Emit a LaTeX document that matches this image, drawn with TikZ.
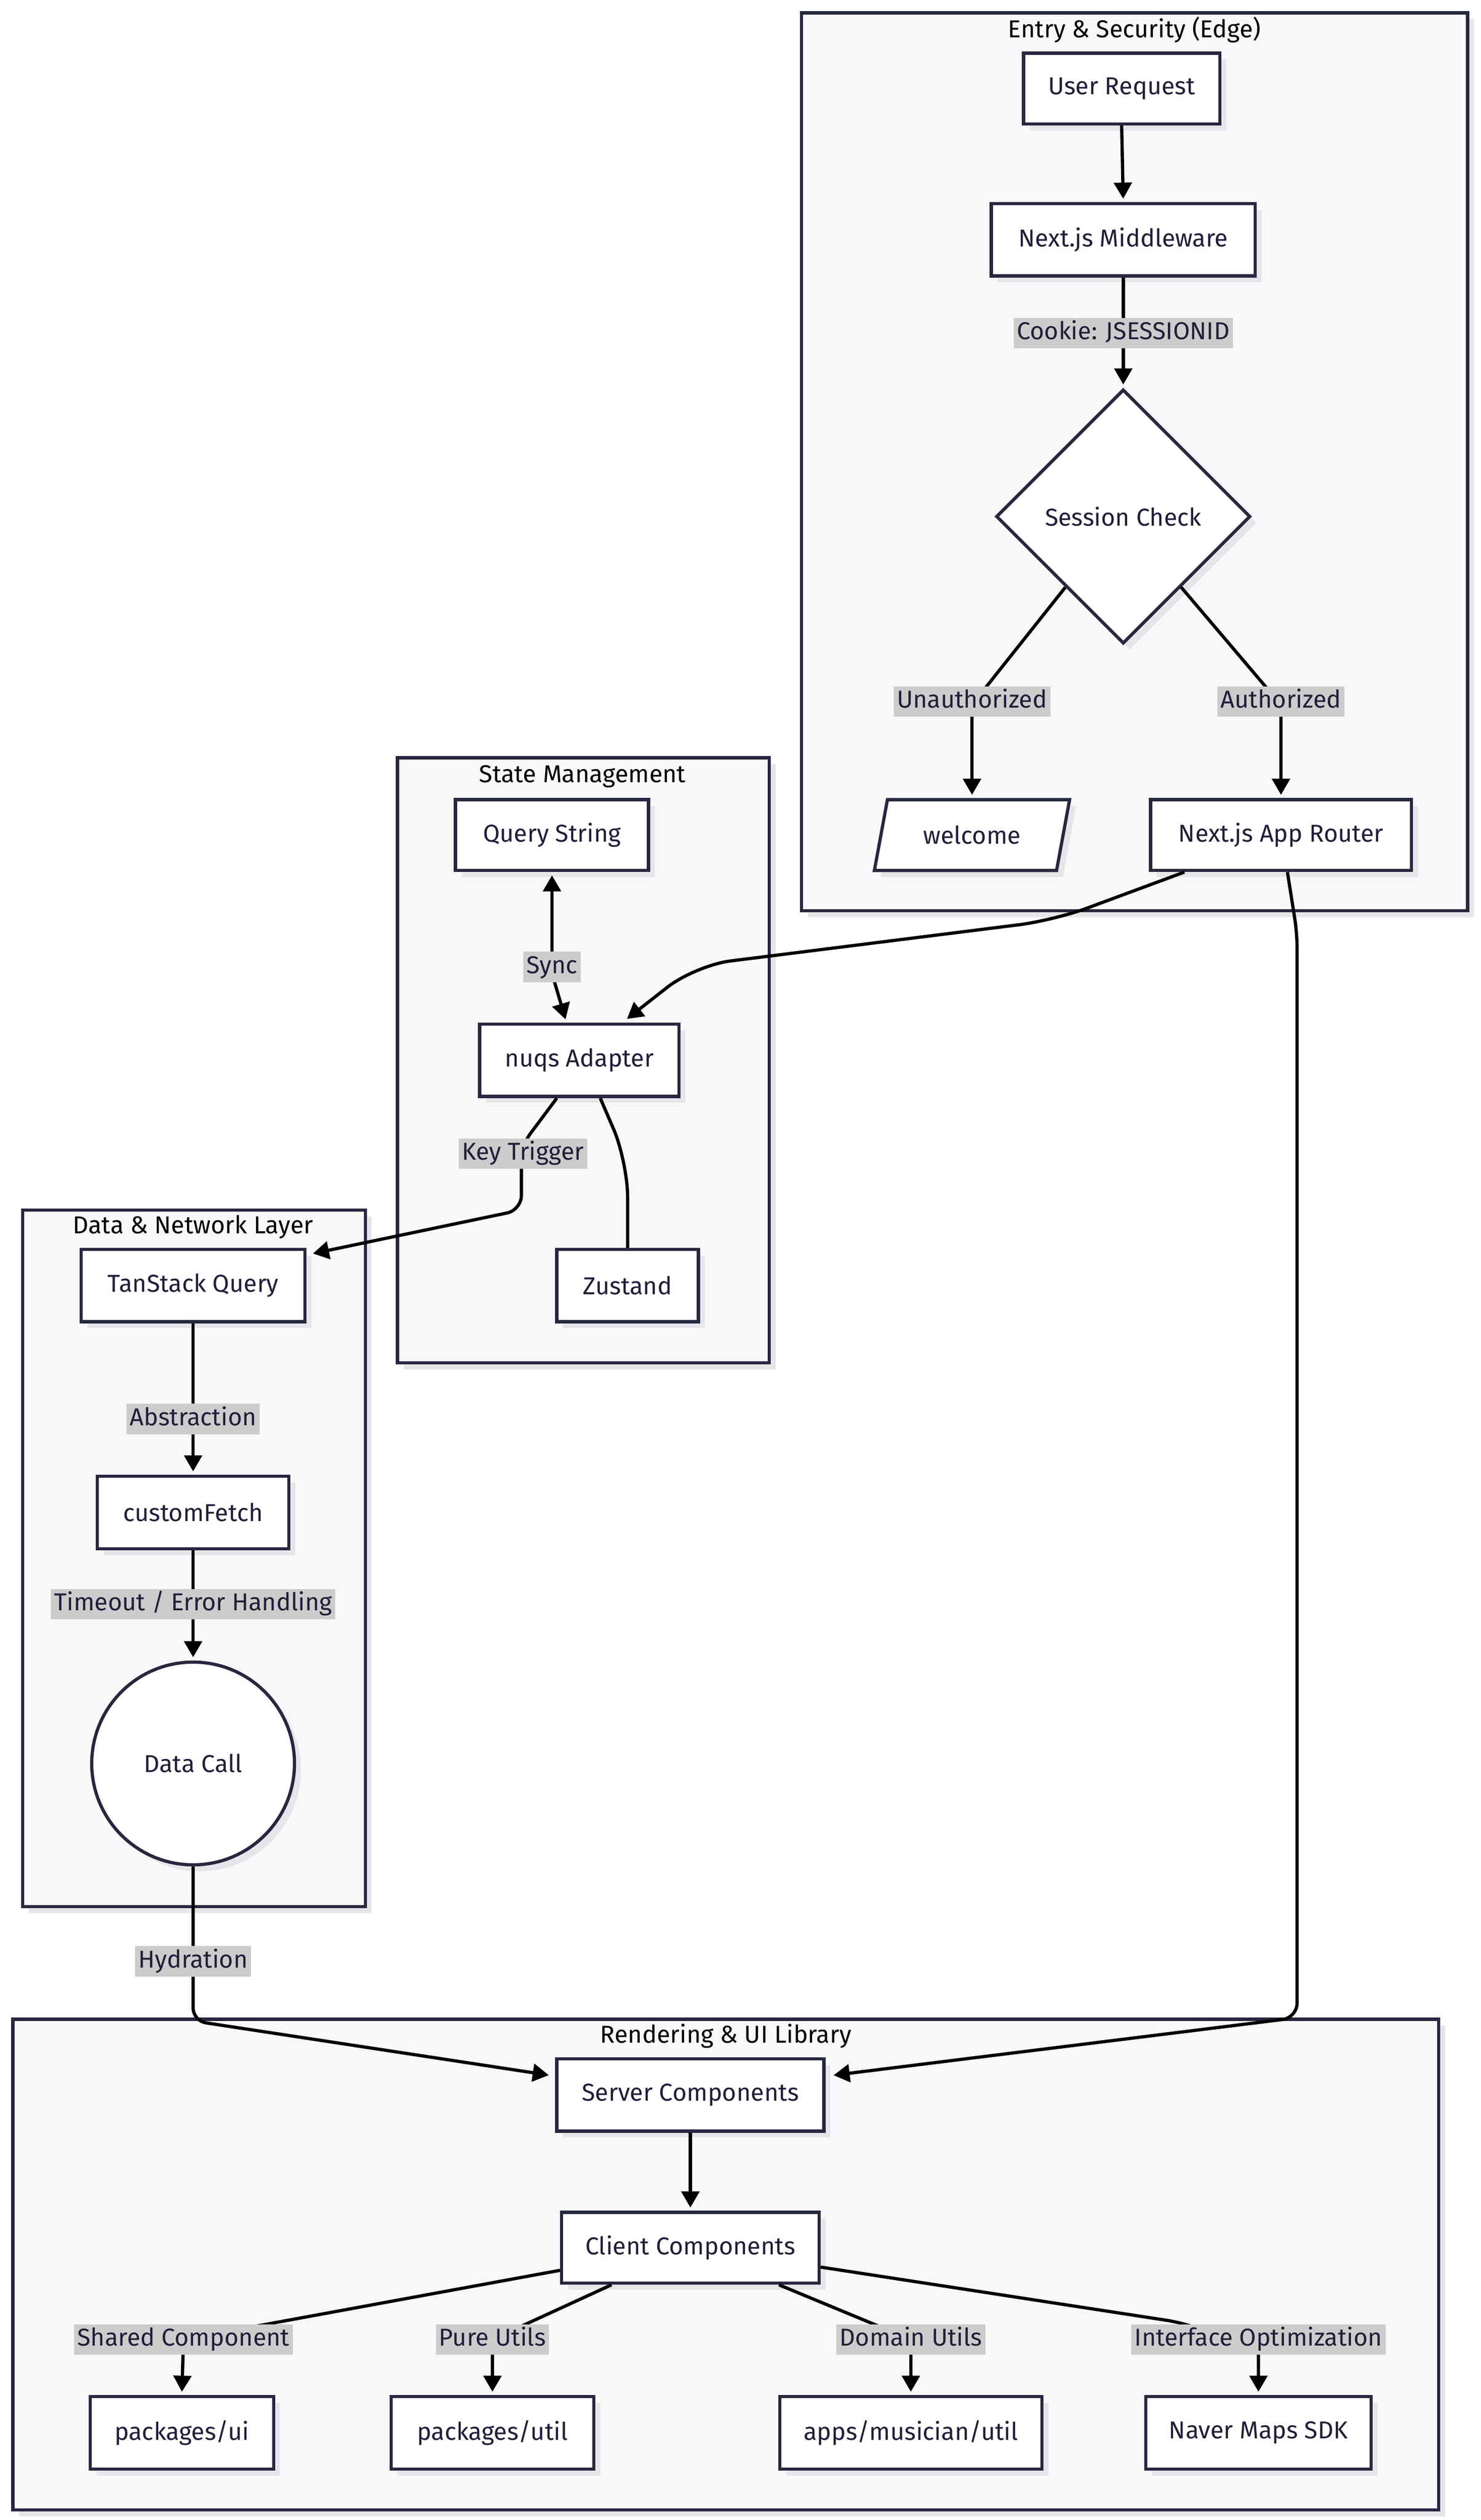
\documentclass[tikz,border=0pt]{standalone}
\usepackage{fontspec}
\setmainfont{Fira Sans}
\usetikzlibrary{arrows.meta,shapes.geometric,shadows,calc}
\definecolor{stk}{HTML}{27273F}
\definecolor{txt}{HTML}{1F1F3A}
\definecolor{clfill}{HTML}{F8F8FA}
\definecolor{shd}{HTML}{E6E6EA}
\definecolor{lbl}{HTML}{CCCCCC}
\begin{document}
\begin{tikzpicture}[x=1pt,y=-1pt,
  font=\fontsize{15.2}{17}\selectfont,
  shd/.style={drop shadow={shadow xshift=4pt, shadow yshift=-4pt, fill=shd, opacity=1}},
  box/.style={draw=stk, line width=2pt, fill=white, text=txt, inner sep=0pt, shd},
  cluster/.style={draw=stk, line width=2pt, fill=clfill, shd},
  ctitle/.style={text=black, inner sep=0pt},
  edge/.style={draw=black, line width=2pt, -{Triangle[length=10pt,width=11pt]}, shorten >=2pt},
  plain/.style={draw=black, line width=2pt},
  lab/.style={fill=lbl, text=txt, inner sep=2pt, text height=11.5pt, text depth=3.5pt}
]
\useasboundingbox (0,0) rectangle (920,1566.2);
\fill[white] (0,0) rectangle (920,1566.2);

% clusters
\path[cluster] (498,8) rectangle (912,566);
\node[ctitle] (t1) at (705,18.5) {Entry \& Security (Edge)};
\path[cluster] (247,471) rectangle (478,847);
\node[ctitle] (t2) at (362,482.5) {State Management};
\path[cluster] (14,752) rectangle (227,1185);
\node[ctitle] (t3) at (120,762.5) {Data \& Network Layer};
\path[cluster] (8,1255) rectangle (894,1560);
\node[ctitle] (t4) at (451,1265.5) {Rendering \& UI Library};

% nodes
\node[box, minimum width=122pt, minimum height=44pt] (ur) at (697,55) {User Request};
\node[box, minimum width=164pt, minimum height=45pt] (mw) at (698,149) {Next.js Middleware};
\node[box, diamond, minimum width=158pt, minimum height=158pt] (sc) at (698,321) {Session Check};
\node[box, trapezium, trapezium left angle=68, trapezium right angle=112, trapezium stretches=true, minimum width=122pt, minimum height=44pt] (wel) at (604,519) {welcome};
\node[box, minimum width=162pt, minimum height=44pt] (ar) at (796,519) {Next.js App Router};

\node[box, minimum width=120pt, minimum height=44pt] (qs) at (343,519) {Query String};
\node[box, minimum width=124pt, minimum height=45pt] (nq) at (360,659) {nuqs Adapter};
\node[box, minimum width=88pt, minimum height=45pt] (zu) at (390,799) {Zustand};

\node[box, minimum width=139pt, minimum height=45pt] (tq) at (120,799) {TanStack Query};
\node[box, minimum width=119pt, minimum height=45pt] (cf) at (120,940) {customFetch};
\node[box, circle, minimum size=126pt] (dc) at (120,1096) {Data Call};

\node[box, minimum width=166pt, minimum height=45pt] (sv) at (429,1302) {Server Components};
\node[box, minimum width=160pt, minimum height=44pt] (cc) at (429,1397) {Client Components};
\node[box, minimum width=114pt, minimum height=45pt] (pui) at (113,1512) {packages/ui};
\node[box, minimum width=126pt, minimum height=45pt] (put) at (306,1512) {packages/util};
\node[box, minimum width=163pt, minimum height=45pt] (amu) at (566,1512) {apps/musician/util};
\node[box, minimum width=140pt, minimum height=45pt] (nms) at (782,1512) {Naver Maps SDK};

% edges
\draw[edge] (ur.south) -- (mw.north);
\draw[edge] (mw.south) -- (sc.north);
\draw[edge, rounded corners=6pt] ($(sc.west)!0.55!(sc.south)$) -- (604,438) -- (wel.north);
\draw[edge, rounded corners=6pt] ($(sc.east)!0.55!(sc.south)$) -- (796,438) -- (ar.north);

\draw[edge, rounded corners=22pt] ($(ar.south west)+(22,0)$) -- (655,572) -- (432,600) -- ($(nq.north)+(28,-1)$);
\draw[line width=2pt, {Triangle[length=10pt,width=11pt]}-{Triangle[length=10pt,width=11pt]}, shorten <=2pt, shorten >=2pt, rounded corners=6pt] (qs.south) -- (343,605) -- ($(nq.north)+(-8,0)$);
\draw[edge, rounded corners=9pt] ($(nq.south)+(-14,0)$) -- (324,712) -- (324,752) -- ($(tq.north east)+(2,4)$);
\draw[plain, rounded corners=22pt] ($(nq.south)+(13,0)$) -- (390,722) -- (zu.north);

\draw[edge] (tq.south) -- (cf.north);
\draw[edge] (cf.south) -- (dc.north);
\draw[edge, rounded corners=8pt] (dc.south) -- (120,1256) -- ($(sv.west)+(-2,-12)$);
\draw[edge, rounded corners=9pt] ($(ar.south)+(4,0)$) -- (806,580) -- (806,1254) -- ($(sv.east)+(3,-12)$);

\draw[edge] (sv.south) -- (cc.north);
\draw[edge, rounded corners=6pt] ($(cc.west)+(0,14)$) -- (114,1454) -- (pui.north);
\draw[edge, rounded corners=6pt] ($(cc.south west)+(32,0)$) -- (306,1454) -- (put.north);
\draw[edge, rounded corners=6pt] ($(cc.south east)+(-26,0)$) -- (566,1454) -- (amu.north);
\draw[edge, rounded corners=6pt] ($(cc.east)+(0,12)$) -- (731,1443) -- (782,1458) -- (nms.north);

% labels
\node[lab] (l1) at (698,207) {Cookie: JSESSIONID};
\node[lab] (l2) at (604,436) {Unauthorized};
\node[lab] (l3) at (796,436) {Authorized};
\node[lab] (l4) at (343,601) {Sync};
\node[lab] (l5) at (325,717) {Key Trigger};
\node[lab] (l6) at (120,882) {Abstraction};
\node[lab] (l7) at (120,997) {Timeout / Error Handling};
\node[lab] (l8) at (120,1219) {Hydration};
\node[lab] (l9) at (114,1454) {Shared Component};
\node[lab] (l10) at (306,1454) {Pure Utils};
\node[lab] (l11) at (566,1454) {Domain Utils};
\node[lab] (l12) at (782,1454) {Interface Optimization};
\end{tikzpicture}
\end{document}
